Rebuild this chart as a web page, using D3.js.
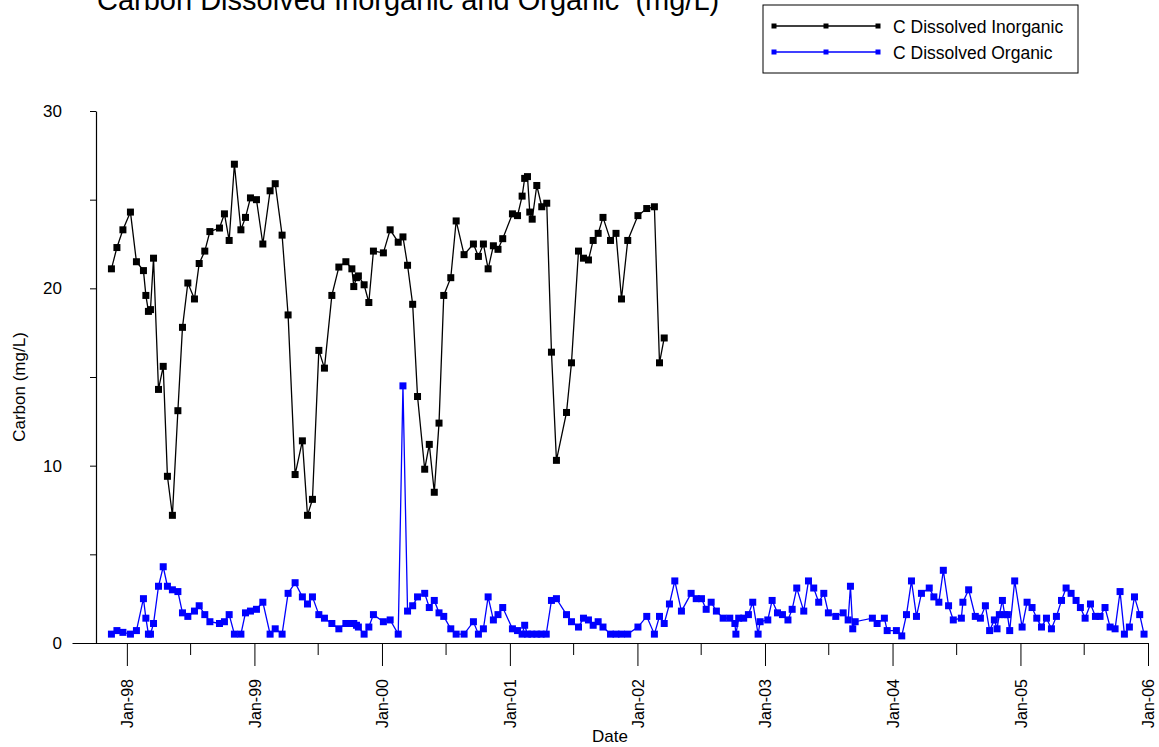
<!DOCTYPE html>
<html>
<head>
<meta charset="utf-8">
<script src="https://cdn.jsdelivr.net/npm/d3@7"></script>
<style>
  html, body { margin: 0; padding: 0; background: #fff; }
  svg { display: block; font-family: "Liberation Sans", Arial, sans-serif; }
  text { white-space: pre; }
</style>
</head>
<body>
<svg id="chart" width="1159" height="747"></svg>
<script>
// Sampling dates as decimal years, with the measured concentrations (mg/L)
const inorganicDates = [
  1997.879, 1997.922, 1997.969, 1998.028, 1998.075, 1998.130, 1998.149, 1998.169, 1998.185, 1998.209,
  1998.248, 1998.285, 1998.318, 1998.357, 1998.400, 1998.436, 1998.478, 1998.530, 1998.567, 1998.611,
  1998.651, 1998.726, 1998.765, 1998.802, 1998.843, 1998.894, 1998.930, 1998.969, 1999.016, 1999.066,
  1999.123, 1999.163, 1999.217, 1999.264, 1999.319, 1999.376, 1999.416, 1999.455, 1999.505, 1999.549,
  1999.607, 1999.662, 1999.717, 1999.764, 1999.779, 1999.800, 1999.815, 1999.860, 1999.897, 1999.933,
  2000.011, 2000.064, 2000.127, 2000.164, 2000.200, 2000.240, 2000.278, 2000.334, 2000.370, 2000.409,
  2000.446, 2000.483, 2000.538, 2000.580, 2000.642, 2000.715, 2000.754, 2000.793, 2000.830, 2000.871,
  2000.907, 2000.944, 2001.020, 2001.060, 2001.096, 2001.116, 2001.138, 2001.156, 2001.175, 2001.211,
  2001.250, 2001.289, 2001.326, 2001.365, 2001.444, 2001.483, 2001.538, 2001.577, 2001.616, 2001.653,
  2001.692, 2001.730, 2001.789, 2001.832, 2001.875, 2001.924, 2002.004, 2002.073, 2002.133, 2002.173,
  2002.210
];
const inorganicValues = [
  21.1, 22.3, 23.3, 24.3, 21.5, 21.0, 19.6, 18.7, 18.8, 21.7,
  14.3, 15.6, 9.4, 7.2, 13.1, 17.8, 20.3, 19.4, 21.4, 22.1,
  23.2, 23.4, 24.2, 22.7, 27.0, 23.3, 24.0, 25.1, 25.0, 22.5,
  25.5, 25.9, 23.0, 18.5, 9.5, 11.4, 7.2, 8.1, 16.5, 15.5,
  19.6, 21.2, 21.5, 21.1, 20.1, 20.6, 20.7, 20.2, 19.2, 22.1,
  22.0, 23.3, 22.6, 22.9, 21.3, 19.1, 13.9, 9.8, 11.2, 8.5,
  12.4, 19.6, 20.6, 23.8, 21.9, 22.5, 21.8, 22.5, 21.1, 22.4,
  22.2, 22.8, 24.2, 24.1, 25.2, 26.2, 26.3, 24.3, 23.9, 25.8,
  24.6, 24.8, 16.4, 10.3, 13.0, 15.8, 22.1, 21.7, 21.6, 22.7,
  23.1, 24.0, 22.7, 23.1, 19.4, 22.7, 24.1, 24.5, 24.6, 15.8,
  17.2
];

const organicDates = [
  1997.879, 1997.922, 1997.969, 1998.028, 1998.075, 1998.130, 1998.149, 1998.169, 1998.185, 1998.209,
  1998.248, 1998.285, 1998.318, 1998.357, 1998.400, 1998.436, 1998.478, 1998.530, 1998.567, 1998.611,
  1998.651, 1998.726, 1998.765, 1998.802, 1998.843, 1998.894, 1998.930, 1998.969, 1999.016, 1999.066,
  1999.123, 1999.163, 1999.217, 1999.264, 1999.319, 1999.376, 1999.416, 1999.455, 1999.505, 1999.549,
  1999.607, 1999.662, 1999.717, 1999.764, 1999.779, 1999.800, 1999.815, 1999.860, 1999.897, 1999.933,
  2000.011, 2000.064, 2000.127, 2000.164, 2000.200, 2000.240, 2000.278, 2000.334, 2000.370, 2000.409,
  2000.446, 2000.483, 2000.538, 2000.580, 2000.642, 2000.715, 2000.754, 2000.793, 2000.830, 2000.871,
  2000.907, 2000.944, 2001.020, 2001.060, 2001.096, 2001.116, 2001.138, 2001.172, 2001.211, 2001.245,
  2001.285, 2001.326, 2001.365, 2001.444, 2001.483, 2001.538, 2001.577, 2001.616, 2001.653, 2001.692,
  2001.730, 2001.789, 2001.832, 2001.875, 2001.924, 2002.004, 2002.073, 2002.133, 2002.173, 2002.210,
  2002.251, 2002.293, 2002.345, 2002.421, 2002.461, 2002.502, 2002.539, 2002.578, 2002.619, 2002.672,
  2002.724, 2002.764, 2002.772, 2002.794, 2002.833, 2002.870, 2002.904, 2002.946, 2002.962, 2003.022,
  2003.056, 2003.098, 2003.137, 2003.180, 2003.213, 2003.249, 2003.304, 2003.341, 2003.382, 2003.421,
  2003.461, 2003.497, 2003.555, 2003.613, 2003.652, 2003.670, 2003.688, 2003.707, 2003.842, 2003.879,
  2003.936, 2003.958, 2004.030, 2004.072, 2004.109, 2004.148, 2004.187, 2004.226, 2004.287, 2004.323,
  2004.362, 2004.397, 2004.438, 2004.475, 2004.538, 2004.550, 2004.595, 2004.647, 2004.687, 2004.726,
  2004.759, 2004.796, 2004.817, 2004.835, 2004.859, 2004.877, 2004.898, 2004.916, 2004.955, 2005.013,
  2005.052, 2005.091, 2005.128, 2005.165, 2005.204, 2005.243, 2005.282, 2005.322, 2005.358, 2005.397,
  2005.436, 2005.470, 2005.507, 2005.549, 2005.588, 2005.624, 2005.663, 2005.703, 2005.742, 2005.781,
  2005.815, 2005.854, 2005.894, 2005.935, 2005.969
];
const organicValues = [
  0.5, 0.7, 0.6, 0.5, 0.7, 2.5, 1.4, 0.5, 0.5, 1.1,
  3.2, 4.3, 3.2, 3.0, 2.9, 1.7, 1.5, 1.8, 2.1, 1.6,
  1.2, 1.1, 1.2, 1.6, 0.5, 0.5, 1.7, 1.8, 1.9, 2.3,
  0.5, 0.8, 0.5, 2.8, 3.4, 2.6, 2.2, 2.6, 1.6, 1.4,
  1.1, 0.8, 1.1, 1.1, 1.1, 1.0, 0.9, 0.5, 0.9, 1.6,
  1.2, 1.3, 0.5, 14.5, 1.8, 2.1, 2.6, 2.8, 2.0, 2.4,
  1.7, 1.5, 0.8, 0.5, 0.5, 1.2, 0.5, 0.8, 2.6, 1.3,
  1.6, 2.0, 0.8, 0.7, 0.5, 1.0, 0.5, 0.5, 0.5, 0.5,
  0.5, 2.4, 2.5, 1.6, 1.2, 0.9, 1.4, 1.3, 1.0, 1.2,
  0.9, 0.5, 0.5, 0.5, 0.5, 0.9, 1.5, 0.5, 1.5, 1.1,
  2.2, 3.5, 1.8, 2.8, 2.5, 2.5, 1.9, 2.3, 1.8, 1.4,
  1.4, 1.1, 0.5, 1.4, 1.4, 1.6, 2.3, 0.5, 1.2, 1.3,
  2.4, 1.7, 1.6, 1.3, 1.9, 3.1, 1.8, 3.5, 3.1, 2.3,
  2.8, 1.7, 1.5, 1.7, 1.3, 3.2, 0.8, 1.2, 1.4, 1.1,
  1.4, 0.7, 0.7, 0.4, 1.6, 3.5, 1.5, 2.8, 3.1, 2.6,
  2.3, 4.1, 2.1, 1.3, 1.4, 2.3, 3.0, 1.5, 1.4, 2.1,
  0.7, 1.3, 0.8, 1.6, 2.4, 1.6, 1.6, 0.7, 3.5, 0.9,
  2.3, 2.0, 1.4, 0.9, 1.4, 0.8, 1.5, 2.4, 3.1, 2.8,
  2.4, 2.0, 1.4, 2.2, 1.5, 1.5, 2.0, 0.9, 0.8, 2.9,
  0.5, 0.9, 2.6, 1.6, 0.5
];

const seriesNames = ["C Dissolved Inorganic", "C Dissolved Organic"];
const seriesColors = ["#000000", "#0000ff"];
const yTickValues = [0, 5, 10, 15, 20, 25, 30];
const yTickLabels = ["0", "", "10", "", "20", "", "30"];
const titleText = "Carbon Dissolved Inorganic and Organic  (mg/L)";
const xTitle = "Date";
const yTitle = "Carbon (mg/L)";

// decimal year -> Date
function fromDecimalYear(v) {
  const yr = Math.floor(v);
  const a = new Date(yr, 0, 1), b = new Date(yr + 1, 0, 1);
  return new Date(+a + (v - yr) * (b - a));
}

const series = [
  { name: seriesNames[0], color: seriesColors[0],
    points: inorganicDates.map((d, i) => ({ date: fromDecimalYear(d), value: inorganicValues[i] })) },
  { name: seriesNames[1], color: seriesColors[1],
    points: organicDates.map((d, i) => ({ date: fromDecimalYear(d), value: organicValues[i] })) }
];

const svg = d3.select("#chart");

const x = d3.scaleTime()
  .domain([new Date(1997, 6, 28), new Date(2006, 0, 1)])
  .range([72, 1148]);
const y = d3.scaleLinear().domain([0, 30]).range([643, 111]);
const yAxisX = 96;

// x axis: January ticks with labels, July ticks without
const janTicks = d3.timeYear.range(new Date(1998, 0, 1), new Date(2006, 0, 2));
const julTicks = d3.timeYear.range(new Date(1998, 0, 1), new Date(2006, 0, 1)).map(d => d3.timeMonth.offset(d, 6));

const gxMinor = svg.append("g").attr("transform", `translate(0,${y(0)})`)
  .call(d3.axisBottom(x).tickValues(julTicks).tickSize(12).tickSizeOuter(0).tickFormat(""));
gxMinor.select(".domain").remove();

const gx = svg.append("g").attr("transform", `translate(0,${y(0)})`)
  .call(d3.axisBottom(x).tickValues(janTicks).tickSize(23).tickSizeOuter(0).tickFormat(d3.timeFormat("%b-%y")));
gx.selectAll(".tick text")
  .attr("font-size", 16)
  .attr("font-family", "Liberation Sans, Arial, sans-serif")
  .attr("fill", "#000")
  .attr("text-anchor", "end")
  .attr("transform", "rotate(-90)")
  .attr("x", -36)
  .attr("y", 0)
  .attr("dy", "0.36em");
[gx, gxMinor].forEach(g => {
  g.selectAll("line").attr("stroke", "#000").attr("stroke-width", 1);
  g.selectAll(".domain").attr("stroke", "#000").attr("stroke-width", 1.2);
});

// y axis
const gy = svg.append("g").attr("transform", `translate(${yAxisX},0)`)
  .call(d3.axisLeft(y).tickValues(yTickValues).tickSize(6).tickSizeOuter(0)
    .tickPadding(28).tickFormat((d, i) => yTickLabels[i]));
gy.selectAll(".tick text")
  .attr("font-size", 17)
  .attr("font-family", "Liberation Sans, Arial, sans-serif")
  .attr("fill", "#000");
gy.selectAll("line").attr("stroke", "#000");
gy.select(".domain").attr("stroke", "#000").attr("stroke-width", 1.2);

// series lines and square markers
const line = d3.line().x(d => x(d.date)).y(d => y(d.value));
const markerSize = 7;
series.forEach(s => {
  const g = svg.append("g");
  g.append("path")
    .datum(s.points)
    .attr("d", line)
    .attr("fill", "none")
    .attr("stroke", s.color)
    .attr("stroke-width", 1.3);
  g.selectAll("rect")
    .data(s.points)
    .join("rect")
    .attr("x", d => x(d.date) - markerSize / 2)
    .attr("y", d => y(d.value) - markerSize / 2)
    .attr("width", markerSize)
    .attr("height", markerSize)
    .attr("fill", s.color);
});

// titles
svg.append("text")
  .attr("x", 97).attr("y", 10)
  .attr("font-size", 29)
  .attr("fill", "#000")
  .text(titleText);

svg.append("text")
  .attr("x", 610).attr("y", 742)
  .attr("text-anchor", "middle")
  .attr("font-size", 17)
  .attr("fill", "#000")
  .text(xTitle);

svg.append("text")
  .attr("transform", "translate(25,387) rotate(-90)")
  .attr("text-anchor", "middle")
  .attr("font-size", 17)
  .attr("fill", "#000")
  .text(yTitle);

// legend
const legend = svg.append("g");
legend.append("rect")
  .attr("x", 763).attr("y", 5)
  .attr("width", 315).attr("height", 68)
  .attr("fill", "#fff")
  .attr("stroke", "#000")
  .attr("stroke-width", 1);
const legendRows = legend.selectAll("g.row")
  .data(series)
  .join("g")
  .attr("class", "row")
  .attr("transform", (d, i) => `translate(0,${26 + i * 26})`);
legendRows.append("line")
  .attr("x1", 774).attr("x2", 878)
  .attr("stroke", d => d.color)
  .attr("stroke-width", 1.3);
legendRows.selectAll("rect")
  .data(d => [774, 826, 878].map(px => ({ px, color: d.color })))
  .join("rect")
  .attr("x", d => d.px - 2.5).attr("y", -2.5)
  .attr("width", 5).attr("height", 5)
  .attr("fill", d => d.color);
legendRows.append("text")
  .attr("x", 893).attr("y", 7)
  .attr("font-size", 17.5)
  .attr("fill", "#000")
  .text(d => d.name);
</script>
</body>
</html>
